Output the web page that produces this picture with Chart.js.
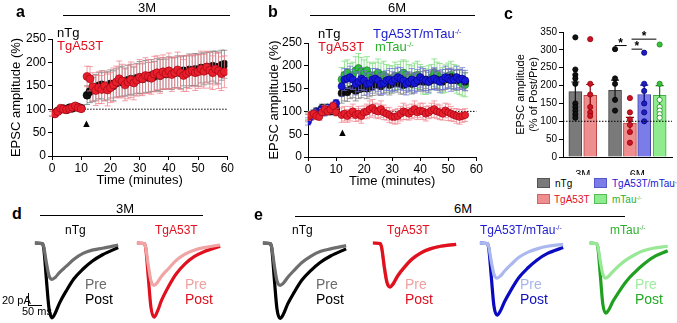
<!DOCTYPE html>
<html>
<head>
<meta charset="utf-8">
<script src="https://cdn.jsdelivr.net/npm/chart.js@4.4.1/dist/chart.umd.min.js"></script>
<style>
body { margin: 0; background: #fff; font-family: 'Liberation Sans', Arial, sans-serif; }
#fig { position: relative; width: 677px; height: 323px; overflow: hidden; }
canvas { position: absolute; }
.t { position: absolute; white-space: nowrap; line-height: 1; }
.hl { position: absolute; height: 1px; background: #000; }
.sq { position: absolute; width: 13px; height: 10px; box-sizing: border-box; }
sup { font-size: 0.55em; vertical-align: 0.6em; line-height: 0; }
</style>
</head>
<body>
<div id="fig">
  <canvas id="chartA" width="235" height="195" style="left:0;top:0"></canvas>
  <canvas id="chartB" width="226" height="196" style="left:258px;top:0"></canvas>
  <canvas id="chartC" width="172" height="175" style="left:505px;top:0"></canvas>

  <canvas id="trD1" width="96" height="90" style="left:31px;top:233px"></canvas>
  <canvas id="trD2" width="96" height="90" style="left:133px;top:233px"></canvas>
  <canvas id="trE1" width="96" height="90" style="left:259px;top:233px"></canvas>
  <canvas id="trE2" width="96" height="90" style="left:369px;top:233px"></canvas>
  <canvas id="trE3" width="96" height="90" style="left:476px;top:233px"></canvas>
  <canvas id="trE4" width="90" height="90" style="left:586px;top:233px"></canvas>

  <!-- panel a -->
  <div class="t" style="left:16px;top:4px;font-size:16px;font-weight:bold">a</div>
  <div class="t" style="left:138px;top:1px;font-size:13px">3M</div>
  <div class="hl" style="left:63px;top:15px;width:167px"></div>
  <div class="t" style="left:57px;top:26px;font-size:13px">nTg</div>
  <div class="t" style="left:57px;top:39px;font-size:13px;color:#e0101e">TgA53T</div>
  <div class="t" style="left:81px;top:118px;font-size:11px">&#9650;</div>

  <!-- panel b -->
  <div class="t" style="left:268px;top:4px;font-size:16px;font-weight:bold">b</div>
  <div class="t" style="left:388px;top:1px;font-size:13px">6M</div>
  <div class="hl" style="left:310px;top:15px;width:165px"></div>
  <div class="t" style="left:318px;top:27px;font-size:13px">nTg</div>
  <div class="t" style="left:318px;top:40px;font-size:13px;color:#e0101e">TgA53T</div>
  <div class="t" style="left:373px;top:27px;font-size:13px;color:#1a1ad0">TgA53T/mTau<sup>-/-</sup></div>
  <div class="t" style="left:375px;top:40px;font-size:13px;color:#2cb02c">mTau<sup>-/-</sup></div>
  <div class="t" style="left:337px;top:127px;font-size:11px">&#9650;</div>

  <!-- panel c -->
  <div class="t" style="left:504px;top:6px;font-size:16px;font-weight:bold">c</div>
  <div class="sq" style="left:537px;top:178px;background:#7a7a7a;border:1px solid #555"></div>
  <div class="sq" style="left:537px;top:194px;background:#ee8e8e;border:1px solid #c66"></div>
  <div class="sq" style="left:594px;top:178px;background:#7c7ce8;border:1px solid #55c"></div>
  <div class="sq" style="left:594px;top:194px;background:#8eec8e;border:1px solid #5b5"></div>
  <div class="t" style="left:555px;top:179px;font-size:10px">nTg</div>
  <div class="t" style="left:554px;top:195px;font-size:10px;color:#e0101e">TgA53T</div>
  <div class="t" style="left:612px;top:179px;font-size:10px;color:#1a1ad0">TgA53T/mTau<sup>-/-</sup></div>
  <div class="t" style="left:612px;top:195px;font-size:10px;color:#2cb02c">mTau<sup>-/-</sup></div>

  <!-- panel d -->
  <div class="t" style="left:12px;top:206px;font-size:16px;font-weight:bold">d</div>
  <div class="t" style="left:116px;top:202px;font-size:13px">3M</div>
  <div class="hl" style="left:40px;top:215px;width:163px"></div>
  <div class="t" style="left:65px;top:224px;font-size:12px">nTg</div>
  <div class="t" style="left:155px;top:224px;font-size:12px;color:#e0101e">TgA53T</div>
  <div class="t" style="left:85px;top:277px;font-size:14px;color:#6a6a6a">Pre</div>
  <div class="t" style="left:85px;top:292px;font-size:14px">Post</div>
  <div class="t" style="left:185px;top:277px;font-size:14px;color:#f0a0a0">Pre</div>
  <div class="t" style="left:185px;top:292px;font-size:14px;color:#e0101e">Post</div>
  <div class="t" style="left:2px;top:295px;font-size:11px">20 pA</div>
  <div class="t" style="left:22px;top:306px;font-size:11px">50 ms</div>
  <div style="position:absolute;left:28px;top:293px;width:1px;height:13px;background:#000"></div>
  <div class="hl" style="left:28px;top:305px;width:14px"></div>

  <!-- panel e -->
  <div class="t" style="left:254px;top:207px;font-size:16px;font-weight:bold">e</div>
  <div class="t" style="left:454px;top:202px;font-size:13px">6M</div>
  <div class="hl" style="left:295px;top:216px;width:330px"></div>
  <div class="t" style="left:292px;top:224px;font-size:12px">nTg</div>
  <div class="t" style="left:387px;top:224px;font-size:12px;color:#e0101e">TgA53T</div>
  <div class="t" style="left:480px;top:224px;font-size:12px;color:#1a1ad0">TgA53T/mTau<sup>-/-</sup></div>
  <div class="t" style="left:610px;top:224px;font-size:12px;color:#2cb02c">mTau<sup>-/-</sup></div>
  <div class="t" style="left:316px;top:277px;font-size:14px;color:#6a6a6a">Pre</div>
  <div class="t" style="left:316px;top:292px;font-size:14px">Post</div>
  <div class="t" style="left:405px;top:277px;font-size:14px;color:#f0a0a0">Pre</div>
  <div class="t" style="left:405px;top:292px;font-size:14px;color:#e0101e">Post</div>
  <div class="t" style="left:520px;top:277px;font-size:14px;color:#a8b4ee">Pre</div>
  <div class="t" style="left:520px;top:292px;font-size:14px;color:#1010c0">Post</div>
  <div class="t" style="left:635px;top:277px;font-size:14px;color:#a0eca0">Pre</div>
  <div class="t" style="left:635px;top:292px;font-size:14px;color:#22aa22">Post</div>
</div>

<script>
// ---- panel a: 3M time course ----
const timeA = [0,1,2,3,4,5,6,7,8,9,10,
  12,13,14,15,16,17,18,19,20,21,22,23,24,25,26,27,28,29,30,31,32,33,34,35,
  36,37,38,39,40,41,42,43,44,45,46,47,48,49,50,51,52,53,54,55,56,57,58,59];
const nTgA = [90,92,96,100,101,99,103,102,106,104,102,
  130,138,142,146,150,152,148,150,154,150,156,158,160,158,162,164,160,166,168,165,
  170,168,172,170,174,172,176,175,178,176,178,180,178,182,180,184,182,185,183,188,
  186,190,188,192,190,188,194,196];
const nTgAErr = [5,5,5,5,5,5,5,5,5,5,5,
  20,24,26,28,28,30,30,30,30,32,30,32,32,30,32,32,30,32,34,32,
  34,32,34,32,34,34,34,32,34,34,32,34,34,32,34,34,32,34,34,32,
  34,32,34,32,34,34,32,30];
const tgA = [92,90,95,102,100,99,101,104,107,103,101,
  170,165,148,140,146,142,150,141,146,152,158,165,160,152,158,163,156,162,168,165,
  172,170,166,175,178,172,180,176,182,174,178,184,178,172,176,180,182,178,180,186,
  181,190,183,178,186,182,176,180];
const tgAErr = [6,5,6,5,5,6,5,6,5,5,6,
  22,26,30,32,34,30,32,34,32,36,34,38,36,34,36,38,36,34,38,36,
  38,36,34,38,36,38,36,34,38,36,34,38,36,34,38,36,34,38,36,38,
  36,34,38,36,34,38,36,34];

// ---- panel b: 6M time course ----
const timeB = [0,1,2,3,4,5,6,7,8,9,10,
  12,13,14,15,16,17,18,19,20,21,22,23,24,25,26,27,28,29,30,31,32,33,34,35,
  36,37,38,39,40,41,42,43,44,45,46,47,48,49,50,51,52,53,54,55,56];
const nTgB = [85,90,95,100,98,108,102,105,100,110,105,
  140,145,142,148,150,145,148,150,155,150,152,155,160,158,155,160,162,158,160,165,
  162,160,158,162,165,160,162,165,168,165,170,165,168,172,170,168,165,170,172,175,
  170,168,172,170,165];
const nTgBErr = [8,8,8,8,8,8,8,8,8,8,8,
  22,22,20,20,20,22,20,20,20,22,20,20,20,22,20,20,20,22,20,20,
  20,22,20,20,20,22,20,20,20,22,20,20,20,22,20,20,20,22,20,20,
  20,22,20,20,20];
const tgB = [88,92,95,90,88,98,105,100,104,112,98,
  92,95,90,95,100,92,95,90,98,100,105,108,102,100,105,98,95,92,88,88,
  90,95,100,98,95,100,105,98,102,100,95,98,102,105,100,98,95,102,98,95,
  92,90,88,90,92];
const tgBErr = [8,8,8,8,8,8,8,8,8,8,8,
  16,16,14,16,16,14,16,16,14,16,18,18,16,16,18,16,14,16,14,16,
  16,16,18,16,14,16,18,16,16,18,16,14,16,18,16,16,14,16,18,16,
  14,16,16,14,14];
const blueB = [78,88,95,98,100,105,98,108,105,112,118,
  155,170,172,175,170,160,165,172,168,160,162,170,172,168,160,162,168,170,165,170,
  175,172,168,160,165,170,162,168,175,170,168,165,170,172,168,165,170,175,172,168,
  170,175,170,172,168];
const blueBErr = [8,8,8,8,8,8,8,8,8,8,8,
  22,24,22,24,22,24,22,24,22,24,22,24,22,24,22,24,22,24,22,24,
  22,24,22,24,22,24,22,24,22,24,22,24,22,24,22,24,22,24,22,24,
  22,24,22,24,22];
const greenB = [90,92,95,100,98,105,100,108,102,110,108,
  170,180,185,175,180,190,195,188,185,190,180,175,180,185,178,180,175,170,172,178,
  175,180,185,180,175,170,178,180,175,168,165,170,175,185,180,175,168,172,178,180,
  175,170,165,160,158];
const greenBErr = [8,8,8,8,8,8,8,8,8,8,8,
  26,30,28,30,28,30,32,30,28,30,28,30,28,30,28,30,28,30,28,30,
  28,30,28,30,28,30,28,30,28,30,28,30,28,30,28,30,28,30,28,30,
  28,30,28,26,26];

// ---- panel c: Post/Pre summary ----
const barGroups = ['3M nTg','3M TgA53T','6M nTg','6M TgA53T','6M TgA53T/mTau-/-','6M mTau-/-'];
const barPos = [0, 1, 2.67, 3.67, 4.63, 5.67];
const barMean = [183, 173, 187, 95, 175, 173];
const barErr = [27, 30, 28, 16, 26, 27];
const barDots = [
  [335, 245, 230, 220, 205, 150, 140, 130, 120, 110],
  [330, 205, 175, 140, 125, 115],
  [302, 220, 205, 160, 130],
  [165, 125, 105, 90, 70, 40],
  [292, 205, 185, 150, 125, 100],
  [315, 205, 160, 140, 130, 120, 110]
];
const ageLabels = ['3M', '6M'];

// ---- panels d, e: EPSC traces (ms, pA) ----
const traceTime = [0, 28, 34, 44, 54, 66, 78, 95, 120, 150, 185, 220, 260, 320];
const d3nTgPre  = [0,-1,-6,-30,-50,-56,-53,-45,-36,-25,-16,-11,-8,-3];
const d3nTgPost = [0,-1,-8,-55,-100,-115,-108,-92,-74,-55,-40,-28,-18,-7];
const d3TgPre   = [0,-1,-7,-35,-58,-65,-61,-51,-40,-27,-17,-11,-7,-3];
const d3TgPost  = [0,-1,-8,-54,-99,-114,-106,-88,-68,-48,-32,-21,-13,-5];
const e6nTgPre  = [0,-1,-7,-35,-58,-65,-62,-53,-42,-30,-20,-13,-9,-4];
const e6nTgPost = [0,-1,-8,-56,-101,-116,-110,-94,-76,-57,-42,-30,-20,-9];
const e6TgPre   = [0,-1,-7,-36,-59,-66,-62,-50,-37,-24,-15,-9,-5,-2];
const e6TgPost  = [0,-1,-8,-38,-61,-68,-63,-51,-38,-25,-15,-9,-5,-2];
const e6BluePre  = [0,-1,-6,-29,-48,-54,-51,-43,-33,-22,-14,-9,-5,-2];
const e6BluePost = [0,-1,-8,-53,-97,-111,-105,-90,-72,-53,-38,-26,-16,-7];
const e6GreenPre  = [0,-1,-6,-29,-48,-54,-51,-44,-35,-26,-18,-12,-8,-5];
const e6GreenPost = [0,-1,-8,-51,-94,-108,-103,-90,-75,-59,-45,-33,-22,-12];

Chart.defaults.font.family = "'Liberation Sans', Arial, sans-serif";
Chart.defaults.color = '#000';
Chart.defaults.animation = false;

// error bars drawn per dataset, from the dataset's own err array
const errorBars = {
  id: 'errorBars',
  beforeDatasetDraw(chart, args) { drawErr(chart, args, false); },
  afterDatasetDraw(chart, args) { drawErr(chart, args, true); }
};
function drawErr(chart, args, after) {
  const ds = chart.data.datasets[args.index];
  if (!ds.err || !!ds.errAfter !== after) return;
  const ctx = chart.ctx, ys = chart.scales.y;
  ctx.save();
  ctx.lineWidth = ds.errWidth || 1;
  args.meta.data.forEach((el, j) => {
    const v = ds.data[j].y, e = ds.err[j];
    const top = ys.getPixelForValue(v + e), bot = ys.getPixelForValue(v - e);
    const cap = ds.errCap || 3;
    ctx.strokeStyle = Array.isArray(ds.errColor) ? ds.errColor[j] : ds.errColor;
    ctx.beginPath();
    ctx.moveTo(el.x, top); ctx.lineTo(el.x, bot);
    ctx.moveTo(el.x - cap, top); ctx.lineTo(el.x + cap, top);
    if (!ds.errAfter) { ctx.moveTo(el.x - cap, bot); ctx.lineTo(el.x + cap, bot); }
    ctx.stroke();
  });
  ctx.restore();
}

// dotted 100% reference line
function drawRef(chart, opts) {
  const ctx = chart.ctx, xs = chart.scales.x, ys = chart.scales.y;
  const y = ys.getPixelForValue(100);
  ctx.save();
  ctx.strokeStyle = '#000';
  ctx.lineWidth = 1;
  ctx.setLineDash([1.5, 1.5]);
  ctx.beginPath();
  ctx.moveTo(Math.max(xs.getPixelForValue(opts.from), chart.chartArea.left), y);
  ctx.lineTo(chart.chartArea.right, y);
  ctx.stroke();
  ctx.restore();
}
const refLine = {
  id: 'refLine',
  beforeDatasetsDraw(chart, args, opts) { if (!opts.top) drawRef(chart, opts); },
  afterDatasetsDraw(chart, args, opts) { if (opts.top) drawRef(chart, opts); }
};

function pts(xs, ys) { return ys.map((v, i) => ({ x: xs[i], y: v })); }

function lineSet(label, xs, ys, err, fill, edge, errColor, r) {
  return {
    label: label, data: pts(xs, ys), err: err, errColor: errColor, errCap: 3,
    showLine: false, pointRadius: r, pointBackgroundColor: fill,
    pointBorderColor: edge, pointBorderWidth: 0.6
  };
}

function axisOpts(yWidth, xHeight) {
  return {
    x: {
      type: 'linear', min: 0, max: 60,
      ticks: { stepSize: 10, font: { size: 12 }, padding: 1, maxRotation: 0 },
      grid: { drawOnChartArea: false, color: '#000', tickLength: 4 },
      border: { color: '#000' },
      title: { display: true, text: 'Time (minutes)', font: { size: 13 }, padding: { top: 0, bottom: 0 } },
      afterFit: s => { s.height = xHeight; }
    },
    y: {
      min: 0, max: 250,
      ticks: { stepSize: 50, font: { size: 12 }, padding: 2 },
      grid: { drawOnChartArea: false, color: '#000', tickLength: 4 },
      border: { color: '#000' },
      title: { display: true, text: 'EPSC amplitude (%)', font: { size: 13 }, padding: { top: 9, bottom: 0 } },
      afterFit: s => { s.width = yWidth; }
    }
  };
}

// panel a
new Chart(document.getElementById('chartA'), {
  type: 'scatter',
  data: {
    datasets: [
      lineSet('TgA53T', timeA, tgA, tgAErr, '#e8202c', '#9a0010', 'rgba(240,130,140,0.75)', 4),
      lineSet('nTg', timeA, nTgA, nTgAErr, '#111', '#000', 'rgba(120,120,120,0.75)', 4)
    ]
  },
  options: {
    responsive: false,
    layout: { padding: { top: 39, right: 7, bottom: 7 } },
    plugins: { legend: { display: false }, tooltip: { enabled: false }, refLine: { from: 11 } },
    scales: axisOpts(52, 32)
  },
  plugins: [errorBars, refLine]
});

// panel b
new Chart(document.getElementById('chartB'), {
  type: 'scatter',
  data: {
    datasets: [
      lineSet('TgA53T', timeB, tgB, tgBErr, '#e8202c', '#9a0010', 'rgba(240,130,140,0.75)', 3.6),
      lineSet('TgA53T/mTau-/-', timeB, blueB, blueBErr, '#1818d8', '#000080', 'rgba(110,110,220,0.7)', 3.6),
      lineSet('nTg', timeB, nTgB, nTgBErr, '#111', '#000', 'rgba(120,120,120,0.7)', 3.6),
      lineSet('mTau-/-', timeB, greenB, greenBErr, '#30c040', '#107010', 'rgba(120,220,120,0.75)', 3.6)
    ]
  },
  options: {
    responsive: false,
    layout: { padding: { top: 43, right: 5, bottom: 7 } },
    plugins: { legend: { display: false }, tooltip: { enabled: false }, refLine: { from: 0 } },
    scales: axisOpts(50, 32)
  },
  plugins: [errorBars, refLine]
});

// panel c
const dotFill = ['#111', '#c8142a', '#111', '#c8142a', '#2020b8', '#38c038'];
const dotEdge = ['#000', '#900', '#000', '#900', '#000090', '#1a8a1a'];
const dotSets = barDots.map((vals, g) => ({
  type: 'scatter', label: barGroups[g] + ' cells', order: 0,
  data: vals.map(v => ({ x: barPos[g], y: v })),
  pointRadius: 2.6, pointBorderWidth: 0.8,
  pointBackgroundColor: g === 5 ? vals.map(v => v < 200 ? '#fff' : dotFill[g]) : dotFill[g],
  pointBorderColor: dotEdge[g]
}));

const sigBars = {
  id: 'sigBars',
  afterDatasetsDraw(chart) {
    const ctx = chart.ctx, xs = chart.scales.x, ys = chart.scales.y;
    const pairs = [[2.65, 3.45, 312], [3.78, 4.5, 302], [3.78, 5.45, 330]];
    ctx.save();
    ctx.strokeStyle = '#000';
    ctx.fillStyle = '#000';
    ctx.lineWidth = 1;
    ctx.font = 'bold 12px "Liberation Sans", Arial';
    ctx.textAlign = 'center';
    pairs.forEach(p => {
      const x1 = xs.getPixelForValue(p[0]), x2 = xs.getPixelForValue(p[1]);
      const y = ys.getPixelForValue(p[2]);
      ctx.beginPath(); ctx.moveTo(x1, y); ctx.lineTo(x2, y); ctx.stroke();
      ctx.fillText('*', (x1 + x2) / 2, y + 1);
    });
    ctx.restore();
  }
};

new Chart(document.getElementById('chartC'), {
  type: 'bar',
  data: {
    datasets: dotSets.concat([{
      type: 'bar', label: 'mean', order: 1,
      data: barPos.map((x, i) => ({ x: x, y: barMean[i] })),
      backgroundColor: ['#7a7a7a', '#ee8e8e', '#7a7a7a', '#ee8e8e', '#7c7ce8', '#8eec8e'],
      borderColor: ['#444', '#b44', '#444', '#b44', '#44a', '#4a4'],
      borderWidth: 1, barThickness: 13,
      err: barErr, errAfter: true, errCap: 4, errWidth: 1.2,
      errColor: ['#111', '#800', '#111', '#800', '#000080', '#1a7a1a']
    }])
  },
  options: {
    responsive: false,
    layout: { padding: { top: 32, right: 5 } },
    plugins: { legend: { display: false }, tooltip: { enabled: false }, refLine: { from: -0.83, top: true } },
    scales: {
      x: {
        type: 'linear', min: -0.83, max: 6.5, offset: false,
        afterBuildTicks: s => { s.ticks = [{ value: 0.5 }, { value: 4.17 }]; },
        ticks: { font: { size: 11 }, padding: 3, autoSkip: false, callback: (v, i) => ageLabels[i] },
        grid: { display: false, offset: false },
        border: { color: '#000' },
        afterFit: s => { s.height = 18; }
      },
      y: {
        min: 0, max: 350,
        ticks: { stepSize: 50, font: { size: 10 }, padding: 2 },
        grid: { drawOnChartArea: false, color: '#000', tickLength: 4 },
        border: { color: '#000' },
        title: { display: true, text: ['EPSC amplitude', '(% of Post/Pre)'], font: { size: 11 }, padding: { top: 9, bottom: 0 } },
        afterFit: s => { s.width = 58; }
      }
    }
  },
  plugins: [errorBars, refLine, sigBars]
});

// traces
function traceChart(id, pre, post, preColor, postColor) {
  new Chart(document.getElementById(id), {
    type: 'line',
    data: {
      datasets: [
        { label: 'Pre', data: pts(traceTime, pre), borderColor: preColor, borderWidth: 3.2, pointRadius: 0, cubicInterpolationMode: 'monotone', clip: false },
        { label: 'Post', data: pts(traceTime, post), borderColor: postColor, borderWidth: 3.2, pointRadius: 0, cubicInterpolationMode: 'monotone', clip: false }
      ]
    },
    options: {
      responsive: false,
      layout: { padding: 0 },
      plugins: { legend: { display: false }, tooltip: { enabled: false } },
      scales: {
        x: { type: 'linear', display: false, min: -15, max: 354 },
        y: { display: false, min: -123, max: 15.4 }
      }
    }
  });
}
traceChart('trD1', d3nTgPre, d3nTgPost, '#6e6e6e', '#000');
traceChart('trD2', d3TgPre, d3TgPost, '#f0a4a4', '#e0101e');
traceChart('trE1', e6nTgPre, e6nTgPost, '#6e6e6e', '#000');
traceChart('trE2', e6TgPost, e6TgPre, '#e0101e', '#ec9090');
traceChart('trE3', e6BluePre, e6BluePost, '#aab8ee', '#0a0ac0');
traceChart('trE4', e6GreenPre, e6GreenPost, '#98e898', '#20a020');
</script>
</body>
</html>
